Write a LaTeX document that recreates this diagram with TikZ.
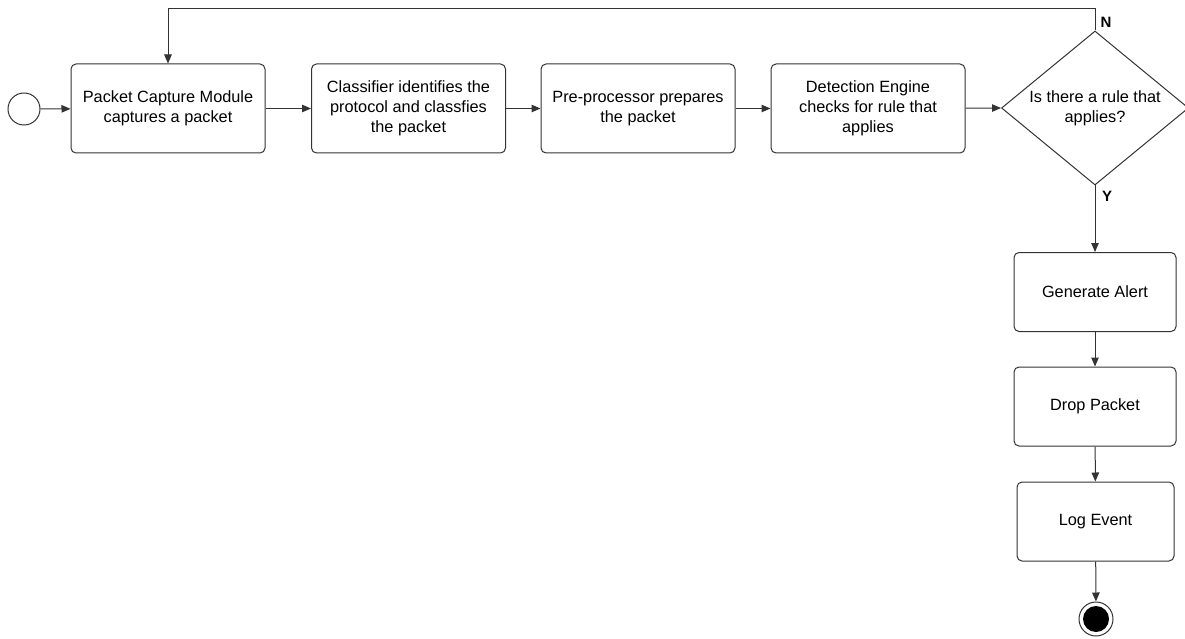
\documentclass[tikz,border=0pt]{standalone}
\usepackage{fontspec}
\setmainfont{Liberation Sans}
\usetikzlibrary{shapes.geometric,arrows.meta}
\definecolor{edge}{HTML}{333333}
\begin{document}
\begin{tikzpicture}[x=1pt,y=-1pt,
  every node/.style={font=\fontsize{16.3}{20}\selectfont, text=black},
  stepbox/.style={draw=edge, line width=1pt, rounded corners=5pt, align=center,
    minimum width=194pt, minimum height=89pt, inner sep=2pt},
  colbox/.style={draw=edge, line width=1pt, rounded corners=5pt, align=center,
    minimum width=162pt, minimum height=79pt, inner sep=2pt},
  flow/.style={draw=edge, line width=1pt, -{Triangle[length=9pt,width=7.5pt]}},
  branch/.style={font=\fontsize{15}{18}\selectfont\bfseries}
]
\useasboundingbox (0,0) rectangle (1185,639);

% start and end states
\node[circle, draw=edge, line width=1pt, minimum size=32pt, inner sep=0] (start) at (24,109) {};
\node[circle, draw=edge, line width=1pt, minimum size=34pt, inner sep=0] (stop) at (1096,619) {};
\node[circle, fill=black, minimum size=26pt, inner sep=0] (stopdot) at (stop) {};

% main processing chain
\node[stepbox] (capture) at (168,108.5) {Packet Capture Module\\captures a packet};
\node[stepbox] (classify) at (408.5,108.5) {Classifier identifies the\\protocol and classfies\\the packet};
\node[stepbox] (prep) at (638,108.5) {Pre-processor prepares\\the packet};
\node[stepbox] (detect) at (868,108.5) {Detection Engine\\checks for rule that\\applies};

% decision
\node[diamond, draw=edge, line width=1pt, minimum width=187pt, minimum height=154pt, inner sep=0] (rule) at (1095,108) {};
\node[align=center] (ruletext) at (1095,108) {Is there a rule that\\applies?};

% actions on a match
\node[colbox] (alert) at (1095,292) {Generate Alert};
\node[colbox] (drop) at (1095,406.5) {Drop Packet};
\node[colbox, minimum width=157pt] (log) at (1095.5,521.5) {Log Event};

% connectors
\draw[flow] (start) -- (capture);
\draw[flow] (capture) -- (classify);
\draw[flow] (classify) -- (prep);
\draw[flow] (prep) -- (detect);
\draw[flow] (detect) -- (rule.west);
\draw[flow] (rule.south) -- (alert.north);
\draw[flow] (alert) -- (drop);
\draw[flow] (drop) -- (log);
\draw[flow] (log) -- (stop);
\coordinate (loopR) at (1095,9);
\coordinate (loopL) at (168,9);
\draw[flow] (rule.north) -- (loopR) -- (loopL) -- (capture.north);

% branch labels
\node[branch] (nlabel) at (1106,22) {N};
\node[branch] (ylabel) at (1107,196) {Y};
\end{tikzpicture}
\end{document}
